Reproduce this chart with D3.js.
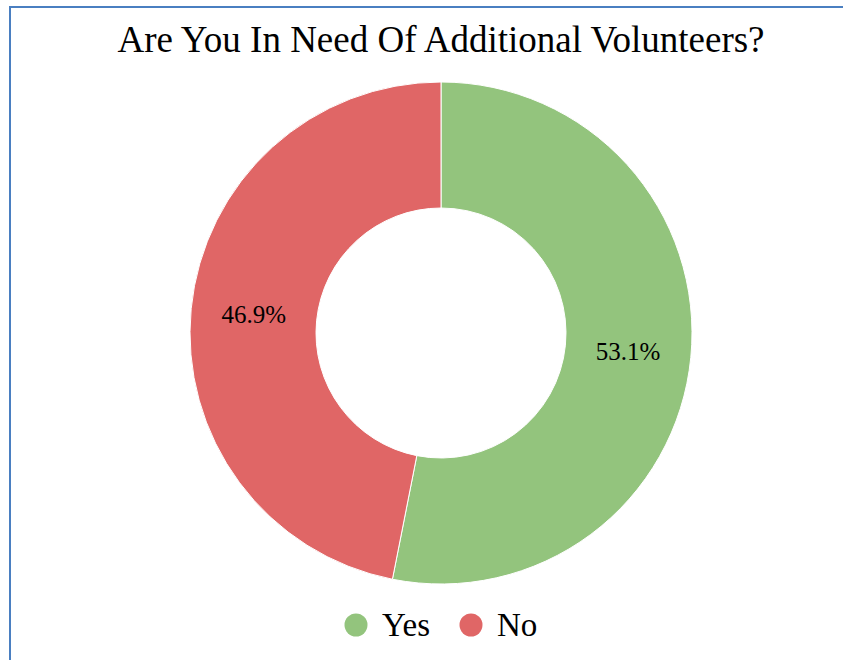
<!DOCTYPE html>
<html>
<head>
<meta charset="utf-8">
<script src="https://cdn.jsdelivr.net/npm/d3@7"></script>
<style>
  html, body { margin: 0; padding: 0; background: #fff; }
  svg { display: block; }
</style>
</head>
<body>
<svg id="chart" width="843" height="660"></svg>
<script>
// Survey answers and their shares (percent)
const categories = ["Yes", "No"];
const values = [53.1, 46.9];
const colors = ["#93c47d", "#e06666"];
const title = "Are You In Need Of Additional Volunteers?";

const svg = d3.select("#chart");
const W = 843, H = 660;
const font = "'Liberation Serif', 'Times New Roman', serif";

// frame
svg.append("rect")
  .attr("x", 10).attr("y", 7)
  .attr("width", W + 20).attr("height", H + 20)
  .attr("fill", "#fff")
  .attr("stroke", "#4a7fc1").attr("stroke-width", 2);

svg.append("text")
  .attr("x", 441).attr("y", 52)
  .attr("text-anchor", "middle")
  .attr("font-family", font).attr("font-size", 37)
  .attr("fill", "#000")
  .text(title);

const cx = 441, cy = 333, rOuter = 251, rInner = 125;
const data = categories.map((c, i) => ({ cat: c, value: values[i], color: colors[i] }));

const pie = d3.pie().value(d => d.value).sort(null);
const arc = d3.arc().innerRadius(rInner).outerRadius(rOuter);

const g = svg.append("g").attr("transform", `translate(${cx},${cy})`);
const arcs = pie(data);

g.selectAll("path.slice").data(arcs).join("path")
  .attr("class", "slice")
  .attr("d", arc)
  .attr("fill", d => d.data.color)
  .attr("stroke", "#fff").attr("stroke-width", 1);

g.selectAll("text.val").data(arcs).join("text")
  .attr("class", "val")
  .attr("transform", d => `translate(${arc.centroid(d)})`)
  .attr("text-anchor", "middle")
  .attr("dominant-baseline", "central")
  .attr("font-family", font).attr("font-size", 25)
  .attr("fill", "#000")
  .text(d => d.data.value.toFixed(1) + "%");

// legend
const legendX = d3.scalePoint().domain(categories).range([356, 471]);
const lg = svg.append("g");
const item = lg.selectAll("g").data(data).join("g")
  .attr("transform", d => `translate(${legendX(d.cat)},625)`);
item.append("circle").attr("r", 11.5).attr("fill", d => d.color);
item.append("text")
  .attr("x", 26).attr("y", 0)
  .attr("dominant-baseline", "central")
  .attr("font-family", font).attr("font-size", 33)
  .attr("fill", "#000")
  .text(d => d.cat);
</script>
</body>
</html>
